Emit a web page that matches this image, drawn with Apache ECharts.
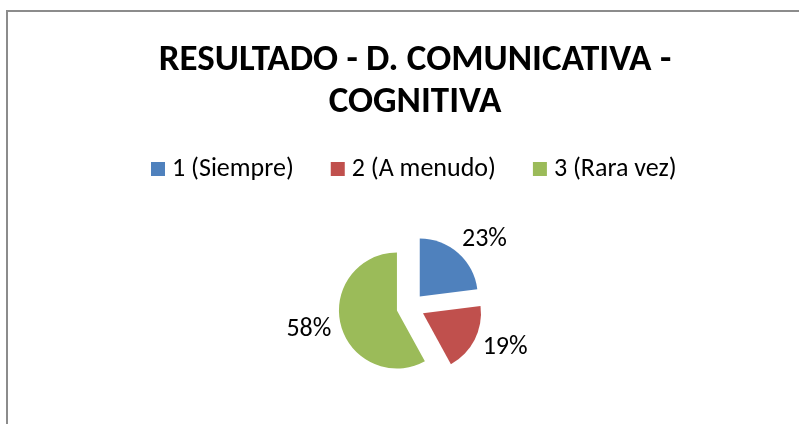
<!DOCTYPE html>
<html>
<head>
<meta charset="utf-8">
<script src="https://cdn.jsdelivr.net/npm/echarts@6/dist/echarts.min.js"></script>
<style>
html,body{margin:0;padding:0;background:#fff;}
#chart{width:799px;height:424px;}
</style>
</head>
<body>
<div id="chart"></div>
<script>
const titleText = 'RESULTADO - D. COMUNICATIVA -\nCOGNITIVA';
const categories = ['1 (Siempre)', '2 (A menudo)', '3 (Rara vez)'];
const values = [23, 19, 58];
const colors = ['#4F81BD', '#C0504D', '#9BBB59'];

const FONT = 'Carlito, Lato, "Open Sans", sans-serif';
const chart = echarts.init(document.getElementById('chart'), null, {renderer: 'canvas'});
const data = categories.map((c, i) => ({name: c, value: values[i], selected: true, itemStyle: {color: colors[i]}}));
chart.setOption({
  animation: false,
  backgroundColor: '#fff',
  graphic: [{
    type: 'rect', shape: {x: 7, y: 11, width: 900, height: 500},
    style: {fill: 'none', stroke: '#8c8c8c', lineWidth: 2}, silent: true, z: -1
  }],
  title: {
    text: titleText, left: 410, top: 35,
    textAlign: 'center',
    textStyle: {fontFamily: FONT, fontWeight: 'bold', fontSize: 37, lineHeight: 42, color: '#000'}
  },
  legend: {
    data: categories, top: 151, left: 146, itemWidth: 14, itemHeight: 14, itemGap: 37,
    icon: 'rect',
    textStyle: {fontFamily: FONT, fontSize: 26, color: '#000', padding: [0, 0, 0, 2]}
  },
  series: [{
    type: 'pie', center: [410.5, 307], radius: 58, startAngle: 90, clockwise: true,
    selectedMode: 'multiple', selectedOffset: 14,
    data: data,
    label: {show: true, position: 'outside', formatter: p => Math.round(p.percent) + '%',
      fontFamily: FONT, fontSize: 26, color: '#000', distanceToLabelLine: -8},
    labelLine: {show: false, length: 18, length2: 0},
    emphasis: {disabled: true}
  }]
});
</script>
</body>
</html>
